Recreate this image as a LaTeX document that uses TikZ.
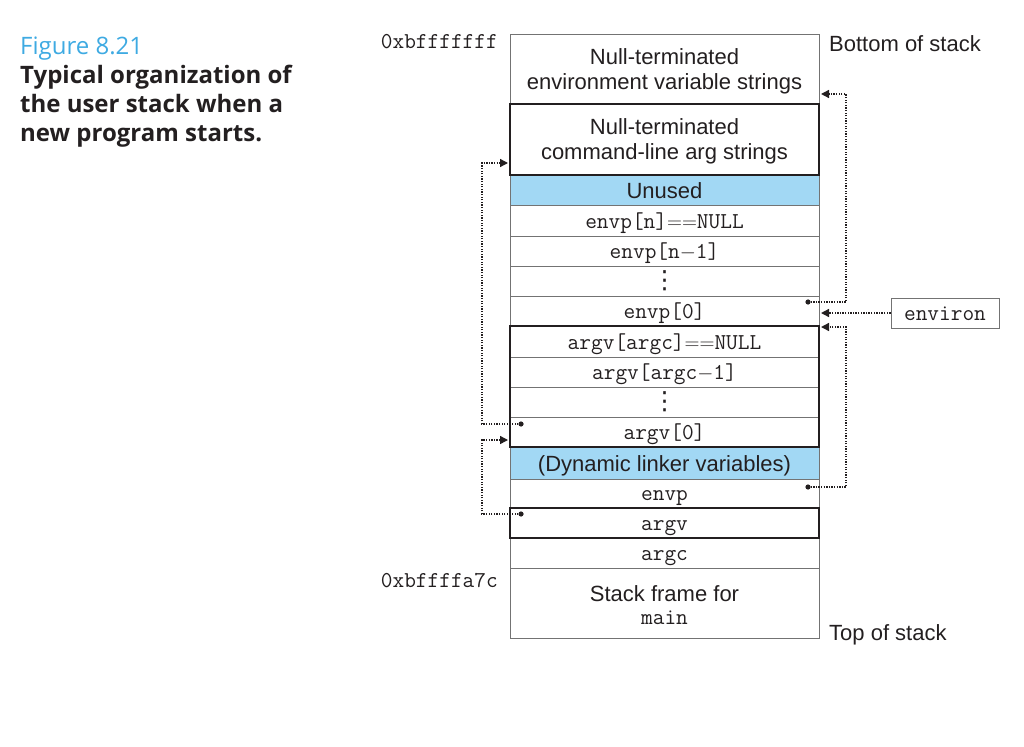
\documentclass[tikz,border=0pt]{standalone}
\usepackage{fontspec}
\setmainfont{Liberation Sans}
\newfontfamily\capfont{Open Sans}
\newfontfamily\dotsfont{DejaVu Sans}
\usetikzlibrary{arrows.meta,calc}
\definecolor{stackblue}{RGB}{162,216,244}
\definecolor{figblue}{RGB}{62,170,226}
\definecolor{ink}{RGB}{35,31,32}
\newcommand{\cellfont}{\fontsize{22}{25}\selectfont}
\newcommand{\ttcellfont}{\fontsize{22.7}{26}\selectfont\ttfamily}
\begin{document}
\begin{tikzpicture}[x=1pt,y=-1pt,
  cell/.style={draw=black!55, line width=0.9pt, minimum width=309pt, inner sep=0pt,
    outer sep=0pt},
  h30/.style={minimum height=30pt},
  bluecell/.style={fill=stackblue},
  sanstext/.style={anchor=base, inner sep=0pt, font=\cellfont, text=ink},
  tttext/.style={anchor=base, inner sep=0pt, font=\ttcellfont, text=ink},
  dotstext/.style={anchor=center, inner sep=0pt, font=\dotsfont\fontsize{25}{28}\selectfont, text=ink},
  thickbox/.style={draw=ink, line width=2.4pt},
  dotline/.style={draw=ink, line width=1.4pt, dash pattern=on 1.3pt off 1.3pt,
    -{Triangle[length=8pt,width=8pt]}},
  dotstart/.style={fill=ink},
  sidelabel/.style={inner sep=0pt, font=\cellfont, text=ink},
  capline/.style={anchor=base west, inner sep=0pt, text=ink,
    font=\capfont\bfseries\fontsize{24}{28}\selectfont},
]
\useasboundingbox (0,0) rectangle (1024,746);

% caption
\node[anchor=base west, inner sep=0pt, text=figblue,
  font=\capfont\fontsize{24}{28}\selectfont] (figno) at (20,55) {Figure 8.21};
\node[capline] (cap1) at (20,84) {Typical organization of};
\node[capline] (cap2) at (20,113) {the user stack when a};
\node[capline] (cap3) at (20,142) {new program starts.};

% stack cells
\node[cell, minimum height=70pt] (envstr) at (664.5,69) {};
\node[cell, minimum height=71pt] (cmd) at (664.5,139.5) {};
\node[cell, bluecell, h30] (unused) at (664.5,190) {};
\node[cell, minimum height=31pt] (envpn) at (664.5,220.5) {};
\node[cell, h30] (envpn1) at (664.5,251) {};
\node[cell, h30] (edots) at (664.5,281) {};
\node[cell, h30] (envp0) at (664.5,311) {};
\node[cell, minimum height=31pt] (argvnull) at (664.5,341.5) {};
\node[cell, h30] (argvm1) at (664.5,372) {};
\node[cell, h30] (adots) at (664.5,402) {};
\node[cell, h30] (argv0) at (664.5,432) {};
\node[cell, bluecell, minimum height=32pt] (dyn) at (664.5,463) {};
\node[cell, minimum height=29pt] (envp) at (664.5,493.5) {};
\node[cell, h30] (argv) at (664.5,523) {};
\node[cell, h30] (argc) at (664.5,553) {};
\node[cell, minimum height=70pt] (main) at (664.5,603) {};

% cell texts
\node[sanstext] (envstr-a) at (664.5,65) {Null-terminated};
\node[sanstext] (envstr-b) at (664.5,90) {environment variable strings};
\node[sanstext] (cmd-a) at (664.5,135) {Null-terminated};
\node[sanstext] (cmd-b) at (664.5,160) {command-line arg strings};
\node[sanstext] (unused-t) at (664.5,198) {Unused};
\node[tttext] (envpn-t) at (664.5,228.5) {envp[n]$==$NULL};
\node[tttext] (envpn1-t) at (664.5,258.5) {envp[n$-$1]};
\node[dotstext] (edots-t) at (664.5,281) {⋮};
\node[tttext] (envp0-t) at (664.5,318.5) {envp[0]};
\node[tttext] (argvnull-t) at (664.5,349.5) {argv[argc]$==$NULL};
\node[tttext] (argvm1-t) at (664.5,379.5) {argv[argc$-$1]};
\node[dotstext] (adots-t) at (664.5,402) {⋮};
\node[tttext] (argv0-t) at (664.5,439.5) {argv[0]};
\node[sanstext] (dyn-t) at (664.5,471) {(Dynamic linker variables)};
\node[tttext] (envp-t) at (664.5,500.5) {envp};
\node[tttext] (argv-t) at (664.5,530.5) {argv};
\node[tttext] (argc-t) at (664.5,560.5) {argc};
\node[sanstext] (main-a) at (664.5,601) {Stack frame for};
\node[tttext] (main-b) at (664.5,624) {main};

% thick frames
\draw[thickbox] (cmd.north west) rectangle (cmd.south east);
\draw[thickbox] (argvnull.north west) rectangle (argv0.south east);
\draw[thickbox] (argv.north west) rectangle (argv.south east);

% side labels
\node[sidelabel, anchor=base east, font=\ttcellfont] (addrtop) at (498,49) {0xbfffffff};
\node[sidelabel, anchor=base east, font=\ttcellfont] (addrbot) at (498,587) {0xbffffa7c};
\node[sidelabel, anchor=base west] (bottomlbl) at (829,52) {Bottom of stack};
\node[sidelabel, anchor=base west] (toplbl) at (829,640) {Top of stack};

% environ box
\node[draw=black!55, line width=0.9pt, minimum width=108pt, minimum height=30pt,
  inner sep=0pt, text=ink] (environ) at (945,313) {};
\node[tttext] (environ-t) at (945,320) {environ};

% pointer coordinates
\coordinate (s1) at ($(envp0.north east)+(-11,6)$);
\coordinate (t1) at ($(envstr.south east)+(2,-10)$);
\coordinate (t2) at ($(envp0.east)+(2,0)$);
\coordinate (s3) at ($(envp.north east)+(-11,8)$);
\coordinate (t3) at ($(argvnull.north east)+(2,1)$);
\coordinate (s4) at ($(argv0.north west)+(11,7)$);
\coordinate (t4) at ($(cmd.south west)+(-2,-12)$);
\coordinate (s5) at ($(argv.north west)+(11,6)$);
\coordinate (t5) at ($(argv0.south west)+(-2,-7)$);

% pointers
\draw[dotline] (s1) -- ++(38,0) |- (t1);
\draw[dotline] (environ.west) -- (environ.west -| t2);
\draw[dotline] (s3) -- ++(38,0) |- (t3);
\draw[dotline] (s4) -- ++(-39,0) |- (t4);
\draw[dotline] (s5) -- ++(-39,0) |- (t5);
\foreach \p in {s1,s3,s4,s5} \fill[dotstart] (\p) circle (2.6pt);
\end{tikzpicture}
\end{document}
